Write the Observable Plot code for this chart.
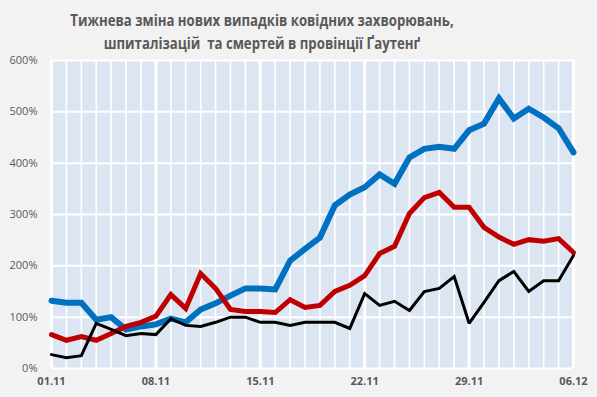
<!DOCTYPE html>
<html><head><meta charset="utf-8">
<script src="https://cdn.jsdelivr.net/npm/d3@7"></script>
<script src="https://cdn.jsdelivr.net/npm/@observablehq/plot@0.6"></script>
<style>
html,body{margin:0;padding:0;background:#f2f2f2;}
#wrap{width:597px;height:397px;position:relative;overflow:hidden;background:#f2f2f2;}
#title{position:absolute;left:0;top:8px;width:524px;text-align:center;font-family:"Open Sans",sans-serif;font-weight:bold;font-size:16.5px;line-height:23px;color:#595959;transform:scaleX(0.8);transform-origin:262px 0;white-space:nowrap;}
#chart{position:absolute;left:0;top:45px;}
</style></head><body>
<div id="wrap">
<div id="title">Тижнева зміна нових випадків ковідних захворювань,<br>шпиталізацій&nbsp; та смертей в провінції Ґаутенґ</div>
<div id="chart"></div>
</div>
<script>
const startDate = "2020-11-01";
const endDate = "2020-12-06";
const seriesNames = ["cases", "hospital", "deaths"];
const cases = [132,128,128,95,100,76,82,86,97,90,115,127,142,156,156,154,210,233,255,318,339,353,378,360,411,428,432,428,464,477,526,487,506,489,468,421];
const hospital = [66,55,62,55,68,82,90,102,144,117,185,156,115,111,111,109,134,119,123,150,162,181,224,238,302,333,343,314,314,275,256,242,251,248,253,226];
const deaths = [27,21,25,88,76,64,68,66,97,84,82,90,100,100,90,90,84,90,90,90,78,146,123,131,113,150,156,179,88,129,171,189,150,171,171,220];
const yTicks = [0,100,200,300,400,500,600];
const colors = {cases:"#0070c0", hospital:"#c00000", deaths:"#000000"};
const widths = {cases:6, hospital:5, deaths:3};

const days = d3.utcDay.range(new Date(startDate), d3.utcDay.offset(new Date(endDate), 1));
const weekTicks = days.filter((d, i) => i % 7 === 0);
const values = {cases, hospital, deaths};
const rows = seriesNames.flatMap(s => values[s].map((v, i) => ({s, date: days[i], v})));

const marks = [
  Plot.frame({fill:"#dce6f2", stroke:null}),
  Plot.ruleX(days, {stroke:"white", strokeWidth:1.6}),
  Plot.ruleX(weekTicks, {stroke:"white", strokeWidth:3}),
  Plot.ruleY(yTicks, {stroke:"white", strokeWidth:2}),
  ...seriesNames.map(s => Plot.line(rows.filter(r => r.s === s), {x:"date", y:"v", stroke:colors[s], strokeWidth:widths[s], strokeLinejoin:"miter", strokeMiterlimit:2})),
  Plot.axisY({ticks:yTicks, tickSize:0, tickPadding:14, tickFormat:d => d + "%", fill:"#595959", fontSize:11, label:null}),
  Plot.axisX({ticks:weekTicks, tickSize:0, tickPadding:9, tickFormat:d3.utcFormat("%d.%m"), fill:"#595959", fontSize:11, fontWeight:"bold", label:null})
];

const chart = Plot.plot({
  width:597, height:352,
  marginTop:15, marginBottom:29, marginLeft:51, marginRight:24,
  style:{background:"transparent", fontFamily:"'Open Sans', sans-serif"},
  x:{type:"utc", domain:[days[0], days[days.length-1]]},
  y:{domain:[0,600]},
  marks
});
document.getElementById("chart").appendChild(chart);
</script>
</body></html>
